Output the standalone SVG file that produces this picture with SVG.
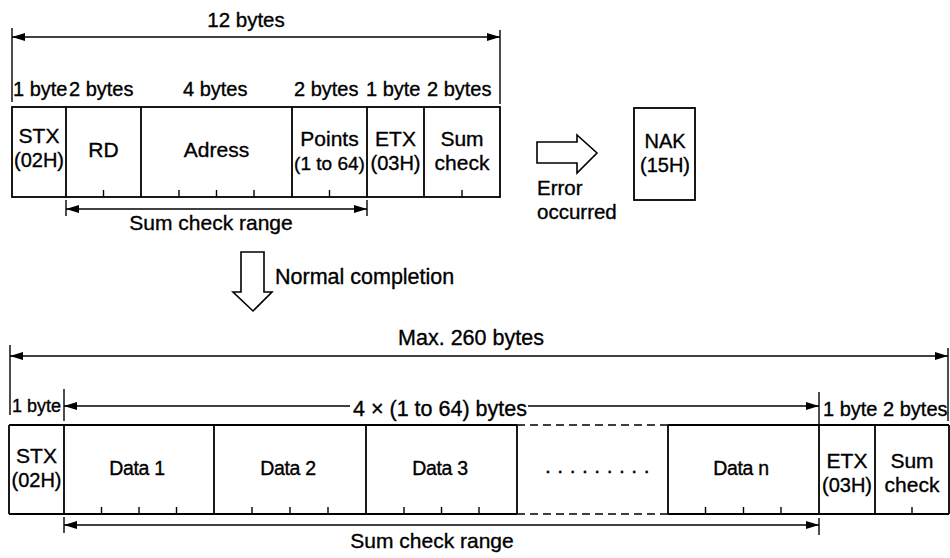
<svg xmlns="http://www.w3.org/2000/svg" width="950" height="558" viewBox="0 0 950 558">
<defs>
<marker id="ah" viewBox="0 0 13 8" refX="13" refY="4" markerWidth="13" markerHeight="8" markerUnits="userSpaceOnUse" orient="auto-start-reverse">
<path d="M0,0 L13,4 L0,8 z" fill="#000"/>
</marker>
<style>
text{font-family:"Liberation Sans",Arial,sans-serif;font-size:21px;fill:#000;stroke:#000;stroke-width:0.35}
.c{text-anchor:middle}
.b{font-size:20px}
.p{font-size:20px}
.s{font-size:19px}
.d{font-size:19.5px;letter-spacing:-0.3px}
.ln{stroke:#000;stroke-width:1.8;fill:none}
.thin{stroke:#000;stroke-width:1.4;fill:none}
.box{stroke:#000;stroke-width:1.8;fill:#fff}
.dash{stroke:#000;stroke-width:1.6;stroke-dasharray:8,5;fill:none}
.arr{stroke:#000;stroke-width:1.4;fill:none;marker-end:url(#ah)}
.arr2{stroke:#000;stroke-width:1.4;fill:none;marker-start:url(#ah);marker-end:url(#ah)}
.hollow{stroke:#000;stroke-width:1.6;fill:#fff}
</style>
</defs>
<rect width="950" height="558" fill="#fff"/>

<!-- TOP FRAME -->
<g id="top-dimensions">
<line class="thin" x1="12" y1="28" x2="12" y2="102"/>
<line class="thin" x1="500" y1="30" x2="500" y2="104"/>
<line class="arr2" x1="12" y1="37" x2="500" y2="37"/>
<text class="c" x="246" y="27" style="font-size:20.5px">12 bytes</text>
<text class="b" x="13" y="96">1 byte</text>
<text class="b" x="69" y="96">2 bytes</text>
<text class="b" x="183" y="96">4 bytes</text>
<text class="b" x="294" y="96">2 bytes</text>
<text class="b" x="366" y="96">1 byte</text>
<text class="b" x="427" y="96">2 bytes</text>
</g>

<g id="top-frame">
<rect class="box" x="12" y="107" width="488" height="90"/>
<g class="ln">
<line x1="66" y1="107" x2="66" y2="197"/>
<line x1="141" y1="107" x2="141" y2="197"/>
<line x1="292" y1="107" x2="292" y2="197"/>
<line x1="367" y1="107" x2="367" y2="197"/>
<line x1="424" y1="107" x2="424" y2="197"/>
</g>
<g class="thin">
<line x1="103.5" y1="197" x2="103.5" y2="190"/>
<line x1="179" y1="197" x2="179" y2="190"/>
<line x1="216.5" y1="197" x2="216.5" y2="190"/>
<line x1="254" y1="197" x2="254" y2="190"/>
<line x1="329.5" y1="197" x2="329.5" y2="190"/>
<line x1="462" y1="197" x2="462" y2="190"/>
</g>
<g id="top-stx"><text class="c" x="39" y="143">STX</text><text class="c p" x="39" y="167">(02H)</text></g>
<g id="top-rd"><text class="c" x="103.5" y="157">RD</text></g>
<g id="top-adress"><text class="c" x="216.5" y="157">Adress</text></g>
<g id="top-points"><text class="c" x="329.5" y="146">Points</text><text class="c s" x="329.5" y="170">(1 to 64)</text></g>
<g id="top-etx"><text class="c" x="395.5" y="146">ETX</text><text class="c p" x="395.5" y="170">(03H)</text></g>
<g id="top-sum"><text class="c" x="462" y="146">Sum</text><text class="c" x="462" y="170">check</text></g>
</g>

<g id="top-sumrange">
<line class="thin" x1="66" y1="200" x2="66" y2="216"/>
<line class="thin" x1="367" y1="200" x2="367" y2="216"/>
<line class="arr2" x1="66" y1="209" x2="367" y2="209"/>
<text class="c" x="211" y="230">Sum check range</text>
</g>

<g id="error">
<polygon class="hollow" points="537,142 577,142 577,135 597,153 577,173 577,163 537,163"/>
<text x="537" y="195" style="font-size:20.5px">Error</text>
<text x="537" y="219" style="font-size:20.5px">occurred</text>
</g>

<g id="nak">
<rect class="box" x="634" y="108" width="61" height="92"/>
<text class="c p" x="665" y="148">NAK</text>
<text class="c p" x="665" y="172">(15H)</text>
</g>

<g id="normal">
<polygon class="hollow" points="241,252 264,252 264,292 272,292 253,311 233,292 241,292"/>
<text x="275" y="284" style="font-size:21.5px">Normal completion</text>
</g>

<!-- BOTTOM FRAME -->
<g id="bottom-dimensions">
<text class="c" x="471" y="345" style="font-size:21.5px">Max. 260 bytes</text>
<line class="thin" x1="10" y1="345" x2="10" y2="415"/>
<line class="thin" x1="948" y1="348" x2="948" y2="421"/>
<line class="arr2" x1="10" y1="356" x2="948" y2="356"/>
<text x="12" y="412" style="font-size:18px">1 byte</text>
<line class="thin" x1="64" y1="389" x2="64" y2="421"/>
<line class="thin" x1="819" y1="392" x2="819" y2="425"/>
<line class="thin" x1="64" y1="406" x2="350" y2="406" marker-start="url(#ah)"/>
<line class="arr" x1="528" y1="406" x2="819" y2="406"/>
<text class="c" x="440" y="416" style="font-size:21.5px">4 × (1 to 64) bytes</text>
<text class="b" x="823" y="416">1 byte 2 bytes</text>
</g>

<g id="bottom-frame">
<g class="ln">
<line x1="9" y1="425" x2="517" y2="425"/>
<line x1="668" y1="425" x2="949" y2="425"/>
<line x1="9" y1="514" x2="517" y2="514"/>
<line x1="668" y1="514" x2="949" y2="514"/>
<line x1="9" y1="425" x2="9" y2="514"/>
<line x1="949" y1="425" x2="949" y2="514"/>
<line x1="64" y1="425" x2="64" y2="514"/>
<line x1="214" y1="425" x2="214" y2="514"/>
<line x1="366" y1="425" x2="366" y2="514"/>
<line x1="517" y1="425" x2="517" y2="514"/>
<line x1="668" y1="425" x2="668" y2="514"/>
<line x1="819" y1="425" x2="819" y2="514"/>
<line x1="875" y1="425" x2="875" y2="514"/>
</g>
<line class="dash" x1="517" y1="425" x2="668" y2="425"/>
<line class="dash" x1="517" y1="514" x2="668" y2="514"/>
<g class="thin">
<line x1="101.5" y1="514" x2="101.5" y2="507"/>
<line x1="139" y1="514" x2="139" y2="507"/>
<line x1="176.5" y1="514" x2="176.5" y2="507"/>
<line x1="252" y1="514" x2="252" y2="507"/>
<line x1="290" y1="514" x2="290" y2="507"/>
<line x1="328" y1="514" x2="328" y2="507"/>
<line x1="404" y1="514" x2="404" y2="507"/>
<line x1="441.5" y1="514" x2="441.5" y2="507"/>
<line x1="479" y1="514" x2="479" y2="507"/>
<line x1="705.5" y1="514" x2="705.5" y2="507"/>
<line x1="743.5" y1="514" x2="743.5" y2="507"/>
<line x1="781" y1="514" x2="781" y2="507"/>
<line x1="912" y1="514" x2="912" y2="507"/>
</g>
<g id="bot-stx"><text class="c" x="36.5" y="463">STX</text><text class="c p" x="36.5" y="487">(02H)</text></g>
<g id="bot-data1"><text class="c d" x="137" y="475">Data 1</text></g>
<g id="bot-data2"><text class="c d" x="288" y="475">Data 2</text></g>
<g id="bot-data3"><text class="c d" x="440" y="475">Data 3</text></g>
<g id="bot-dots"><text x="545" y="473" style="letter-spacing:6.5px">.........</text></g>
<g id="bot-datan"><text class="c d" x="741" y="475">Data n</text></g>
<g id="bot-etx"><text class="c" x="847" y="468">ETX</text><text class="c p" x="847" y="492">(03H)</text></g>
<g id="bot-sum"><text class="c" x="912" y="468">Sum</text><text class="c" x="912" y="492">check</text></g>
</g>

<g id="bottom-sumrange">
<line class="thin" x1="64" y1="517" x2="64" y2="533"/>
<line class="thin" x1="819" y1="518" x2="819" y2="535"/>
<line class="arr2" x1="64" y1="525" x2="819" y2="525"/>
<text class="c" x="432" y="548">Sum check range</text>
</g>
</svg>
